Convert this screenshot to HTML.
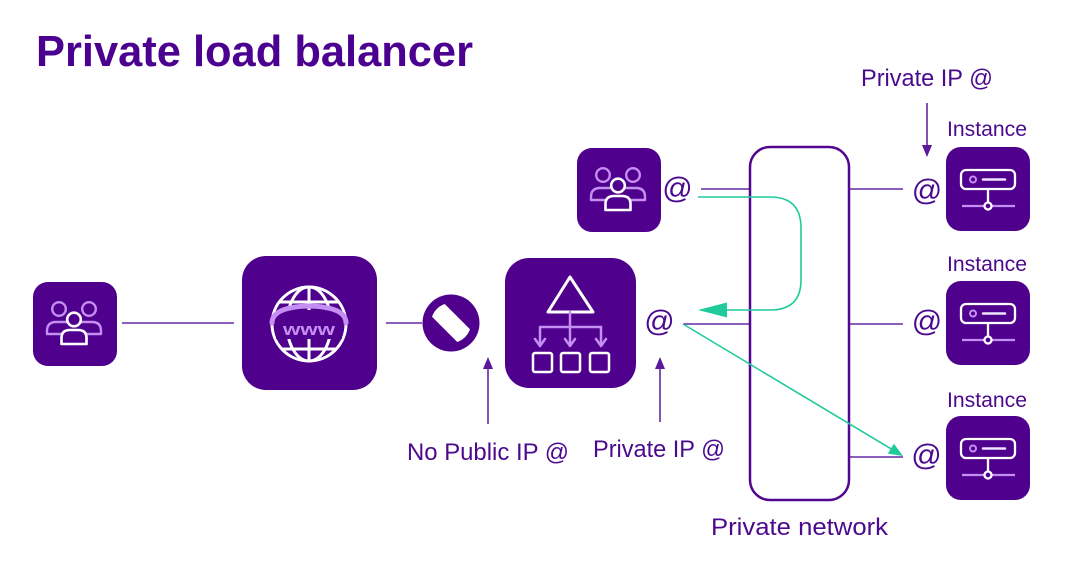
<!DOCTYPE html>
<html><head><meta charset="utf-8">
<style>
html,body{margin:0;padding:0;background:#fff;}
svg{display:block;}
text{font-family:"Liberation Sans",sans-serif;}
</style></head>
<body>
<svg width="1080" height="563" viewBox="0 0 1080 563" xmlns="http://www.w3.org/2000/svg">
<defs>
  <g id="users">
    <rect x="0" y="0" width="84" height="84" rx="15" fill="#4f008c"/>
    <circle cx="26" cy="27" r="6.8" fill="none" stroke="#c58ef3" stroke-width="2.4"/>
    <circle cx="56" cy="27" r="6.8" fill="none" stroke="#c58ef3" stroke-width="2.4"/>
    <path d="M34 40 L23 40 Q14 40 14 49 L14 52 L28 52" fill="none" stroke="#c58ef3" stroke-width="2.4" stroke-linejoin="round"/>
    <path d="M48 40 L59 40 Q68 40 68 49 L68 52 L54 52" fill="none" stroke="#c58ef3" stroke-width="2.4" stroke-linejoin="round"/>
    <circle cx="41" cy="37.5" r="6.8" fill="#4f008c" stroke="#fff" stroke-width="2.6"/>
    <path d="M28.5 62 L28.5 56 Q28.5 48 37 48 L45 48 Q53.5 48 53.5 56 L53.5 62 Z" fill="#4f008c" stroke="#fff" stroke-width="2.6" stroke-linejoin="round"/>
  </g>
  <g id="server">
    <rect x="0" y="0" width="84" height="84" rx="15" fill="#4f008c"/>
    <rect x="15" y="23" width="54" height="19" rx="5" fill="none" stroke="#fff" stroke-width="2.3"/>
    <circle cx="27" cy="32.5" r="3" fill="none" stroke="#c58ef3" stroke-width="2"/>
    <line x1="37" y1="32.5" x2="59" y2="32.5" stroke="#f0e4ff" stroke-width="2.5" stroke-linecap="round"/>
    <line x1="42" y1="42" x2="42" y2="56" stroke="#fff" stroke-width="2.3"/>
    <line x1="16" y1="59" x2="38.5" y2="59" stroke="#c58ef3" stroke-width="2.3"/>
    <line x1="45.5" y1="59" x2="69" y2="59" stroke="#c58ef3" stroke-width="2.3"/>
    <circle cx="42" cy="59" r="3.5" fill="#4f008c" stroke="#fff" stroke-width="2.3"/>
  </g>
  <clipPath id="noclip"><circle cx="451" cy="323" r="20"/></clipPath>
</defs>

<!-- Title -->
<text x="36" y="66" font-size="43.5" font-weight="700" fill="#4b0090" textLength="437" lengthAdjust="spacingAndGlyphs">Private load balancer</text>

<!-- purple connector lines -->
<g stroke="#6528a5" stroke-width="1.6" fill="none">
  <line x1="122" y1="323" x2="234" y2="323"/>
  <line x1="386" y1="323" x2="422" y2="323"/>
  <line x1="701" y1="189" x2="750" y2="189"/>
  <line x1="683" y1="324" x2="750" y2="324"/>
  <line x1="849" y1="189" x2="903" y2="189"/>
  <line x1="849" y1="324" x2="903" y2="324"/>
  <line x1="849" y1="457" x2="903" y2="457"/>
  <line x1="488" y1="424" x2="488" y2="368"/>
  <line x1="660" y1="422" x2="660" y2="368"/>
  <line x1="927" y1="103" x2="927" y2="146"/>
</g>
<g fill="#5a1a9a">
  <polygon points="488,357 483,369 493,369"/>
  <polygon points="660,357 655,369 665,369"/>
  <polygon points="927,157 922,145 932,145"/>
</g>

<!-- Private network box -->
<rect x="750" y="147" width="99" height="353" rx="20" fill="none" stroke="#52058f" stroke-width="2.5"/>

<!-- Left users -->
<use href="#users" x="33" y="282"/>

<!-- WWW box -->
<rect x="242" y="256" width="135" height="134" rx="24" fill="#4f008c"/>
<g fill="none" stroke="#fff" stroke-width="3">
  <circle cx="309" cy="324" r="37"/>
  <ellipse cx="309" cy="324" rx="22" ry="37"/>
  <line x1="309" y1="287" x2="309" y2="361"/>
  <line x1="280" y1="302" x2="338" y2="302"/>
  <line x1="282" y1="349" x2="336" y2="349"/>
</g>
<rect x="276" y="310" width="66" height="29" fill="#4f008c"/>
<path d="M272 323 Q272 307 309 306 Q346 307 346 323" fill="none" stroke="#c58ef3" stroke-width="5" stroke-linecap="round"/>
<text x="309" y="335" font-size="17" font-weight="700" fill="#c58ef3" text-anchor="middle" textLength="52" lengthAdjust="spacingAndGlyphs">www</text>

<!-- No entry -->
<circle cx="451" cy="323" r="28.5" fill="#4f008c"/>
<g clip-path="url(#noclip)">
  <rect x="424" y="314" width="54" height="18" fill="#fff" transform="rotate(45 451 323)"/>
</g>

<!-- Load balancer box -->
<rect x="505" y="258" width="131" height="130" rx="24" fill="#4f008c"/>
<polygon points="570,277 548,312 593,312" fill="none" stroke="#fff" stroke-width="3" stroke-linejoin="round"/>
<g stroke="#c58ef3" stroke-width="2.5" fill="none" stroke-linecap="round" stroke-linejoin="round">
  <line x1="570" y1="312" x2="570" y2="345"/>
  <line x1="540" y1="327" x2="601" y2="327"/>
  <line x1="540" y1="327" x2="540" y2="345"/>
  <line x1="601" y1="327" x2="601" y2="345"/>
  <polyline points="535,339 540,346 545,339"/>
  <polyline points="565,339 570,346 575,339"/>
  <polyline points="596,339 601,346 606,339"/>
</g>
<g fill="none" stroke="#fff" stroke-width="2.5">
  <rect x="533" y="353" width="19" height="19" rx="2"/>
  <rect x="561" y="353" width="19" height="19" rx="2"/>
  <rect x="590" y="353" width="19" height="19" rx="2"/>
</g>

<!-- Top users -->
<use href="#users" x="577" y="148"/>

<!-- Instances -->
<use href="#server" x="946" y="147"/>
<use href="#server" x="946" y="281"/>
<use href="#server" x="946" y="416"/>

<!-- Green arrows -->
<path d="M698 197 L770 197 Q801 197 801 228 L801 280 Q801 310 770 310 L722 310" fill="none" stroke="#1fcb9b" stroke-width="1.6"/>
<polygon points="698,310 727,302.5 727,317.5" fill="#1fcb9b"/>
<line x1="683" y1="324" x2="893" y2="450" stroke="#1fcb9b" stroke-width="1.6"/>
<polygon points="903,456 887.8,453.6 893.9,443.8" fill="#1fcb9b"/>

<!-- @ symbols -->
<g font-size="30" fill="#4b0a8e" text-anchor="middle">
  <text x="677.5" y="198">@</text>
  <text x="659.5" y="331">@</text>
  <text x="927" y="200">@</text>
  <text x="927" y="331">@</text>
  <text x="926.5" y="465">@</text>
</g>

<!-- Labels -->
<g fill="#4b0a8e">
  <text x="861" y="86" font-size="24" textLength="132" lengthAdjust="spacingAndGlyphs">Private IP @</text>
  <text x="947" y="136" font-size="21" textLength="80" lengthAdjust="spacingAndGlyphs">Instance</text>
  <text x="947" y="271" font-size="21" textLength="80" lengthAdjust="spacingAndGlyphs">Instance</text>
  <text x="947" y="407" font-size="21" textLength="80" lengthAdjust="spacingAndGlyphs">Instance</text>
  <text x="407" y="460" font-size="24" textLength="162" lengthAdjust="spacingAndGlyphs">No Public IP @</text>
  <text x="593" y="457" font-size="24" textLength="132" lengthAdjust="spacingAndGlyphs">Private IP @</text>
  <text x="711" y="535" font-size="24" textLength="177" lengthAdjust="spacingAndGlyphs">Private network</text>
</g>
</svg>
</body></html>
